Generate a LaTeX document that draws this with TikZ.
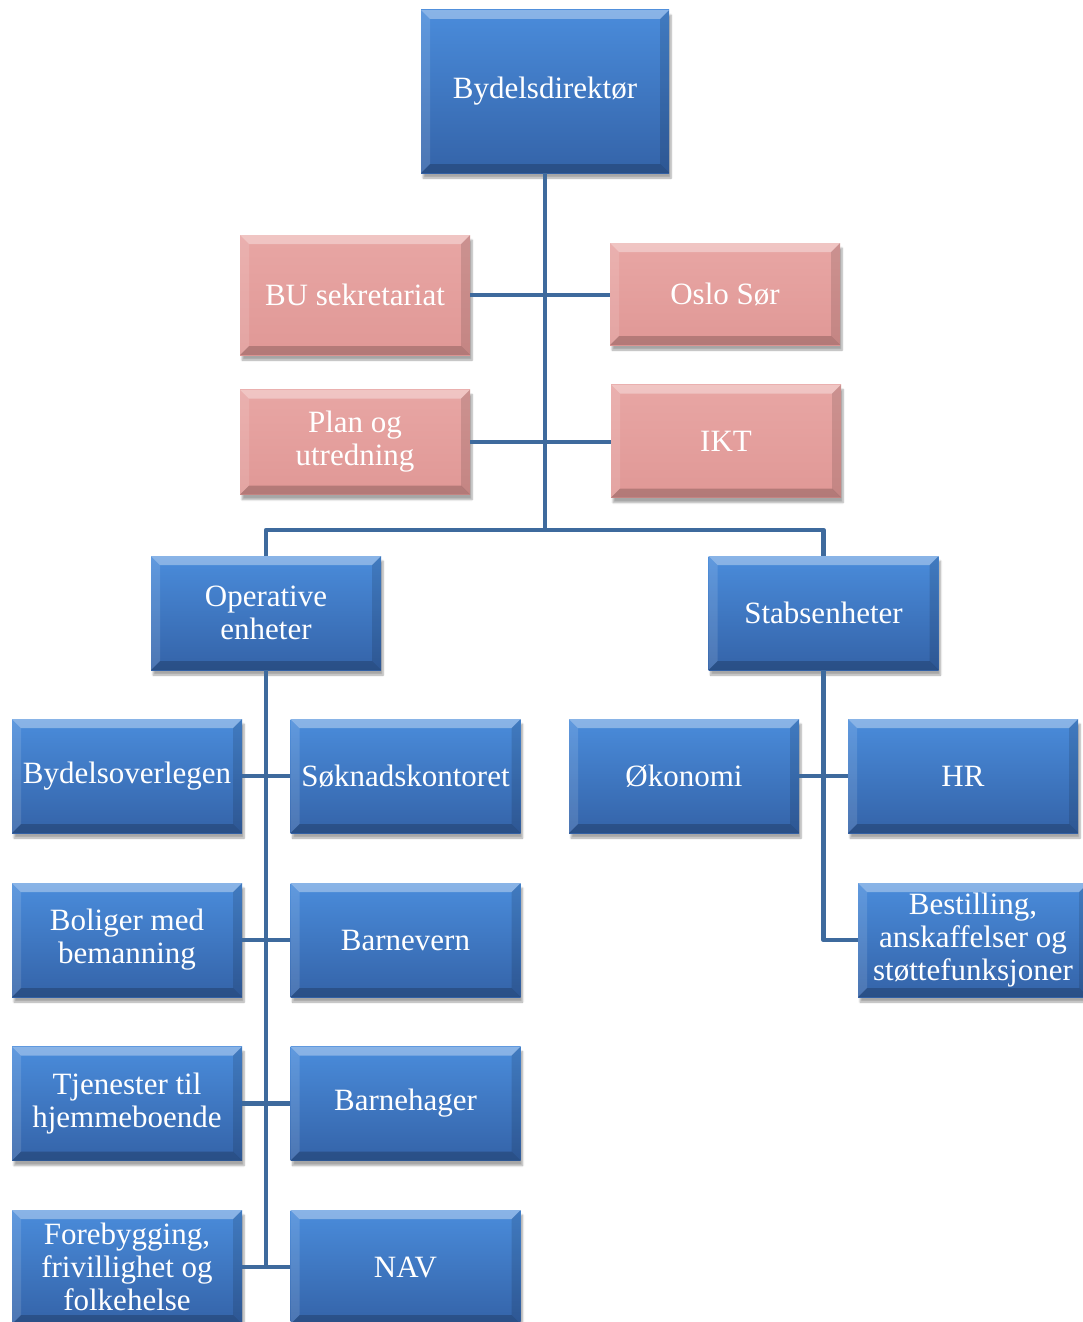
\documentclass[tikz,border=0pt]{standalone}
\usepackage{fontspec}
\setmainfont{Liberation Serif}
\usetikzlibrary{shadows.blur}
\definecolor{btop}{HTML}{4A8CDB}
\definecolor{bbot}{HTML}{3463A8}
\definecolor{ptop}{HTML}{E8A6A4}
\definecolor{pbot}{HTML}{E09896}
\definecolor{lnc}{HTML}{3E6A9D}
\tikzset{
  bevel/.style={path picture={
    \fill[white,opacity=0.35] (path picture bounding box.north west) -- (path picture bounding box.north east) -- ([shift={(-9pt,-9pt)}]path picture bounding box.north east) -- ([shift={(9pt,-9pt)}]path picture bounding box.north west) -- cycle;
    \fill[white,opacity=0.12] (path picture bounding box.north west) -- (path picture bounding box.south west) -- ([shift={(9pt,9pt)}]path picture bounding box.south west) -- ([shift={(9pt,-9pt)}]path picture bounding box.north west) -- cycle;
    \fill[black,opacity=0.12] (path picture bounding box.north east) -- (path picture bounding box.south east) -- ([shift={(-9pt,9pt)}]path picture bounding box.south east) -- ([shift={(-9pt,-9pt)}]path picture bounding box.north east) -- cycle;
    \fill[black,opacity=0.2] (path picture bounding box.south west) -- (path picture bounding box.south east) -- ([shift={(-9pt,9pt)}]path picture bounding box.south east) -- ([shift={(9pt,9pt)}]path picture bounding box.south west) -- cycle;
  }},
  orgbox/.style={rectangle, inner sep=2pt, align=center, text=white,
    font=\fontsize{31}{33}\selectfont, minimum width=230pt, minimum height=114pt,
    bevel, blur shadow={shadow xshift=2pt, shadow yshift=-5pt, shadow blur steps=6, shadow opacity=35}},
  bluebox/.style={orgbox, top color=btop, bottom color=bbot},
  pinkbox/.style={orgbox, top color=ptop, bottom color=pbot},
  conn/.style={draw=lnc, line width=4.5pt}
}
\begin{document}
\begin{tikzpicture}[x=1pt,y=-1pt]
\useasboundingbox (0,0) rectangle (1083,1322);
\node[bluebox, minimum width=248pt, minimum height=163pt] (dir) at (545,91.5) {Bydelsdirektør};
\node[pinkbox, minimum height=120pt] (bu) at (355,295) {BU sekretariat};
\node[pinkbox, minimum height=102pt] (oslo) at (725,294) {Oslo Sør};
\node[pinkbox, minimum height=105pt] (plan) at (355,442) {Plan og\\utredning};
\node[pinkbox, minimum height=113pt] (ikt) at (726,441) {IKT};
\node[bluebox] (op) at (266,613) {Operative\\enheter};
\node[bluebox] (stab) at (823.5,613) {Stabsenheter};
\node[bluebox] (bol) at (127,776) {Bydelsoverlegen};
\node[bluebox] (sok) at (405.5,776) {Søknadskontoret};
\node[bluebox] (bmb) at (127,940) {Boliger med\\bemanning};
\node[bluebox] (bv) at (405.5,940) {Barnevern};
\node[bluebox] (tj) at (127,1103.5) {Tjenester til\\hjemmeboende};
\node[bluebox] (bh) at (405.5,1103.5) {Barnehager};
\node[bluebox] (fore) at (127,1267) {Forebygging,\\frivillighet og\\folkehelse};
\node[bluebox] (nav) at (405.5,1267) {NAV};
\node[bluebox] (oko) at (684,776) {Økonomi};
\node[bluebox] (hr) at (963,776) {HR};
\node[bluebox] (best) at (973,940) {Bestilling,\\anskaffelser og\\støttefunksjoner};
\coordinate (j1) at (545,530);
\draw[conn] (dir.south) -- (j1);
\draw[conn] (bu.east) -- (bu.east -| oslo.west);
\draw[conn] (plan.east) -- (plan.east -| ikt.west);
\draw[conn, line join=round] (op.north) |- (j1) -| (stab.north);
\draw[conn] (op.south) -- (op.south |- fore.east);
\draw[conn] (bol.east) -- (sok.west);
\draw[conn] (bmb.east) -- (bv.west);
\draw[conn] (tj.east) -- (bh.west);
\draw[conn] (fore.east) -- (nav.west);
\draw[conn, line join=round] (stab.south) |- (best.west);
\draw[conn] (oko.east) -- (hr.west);
\end{tikzpicture}
\end{document}
